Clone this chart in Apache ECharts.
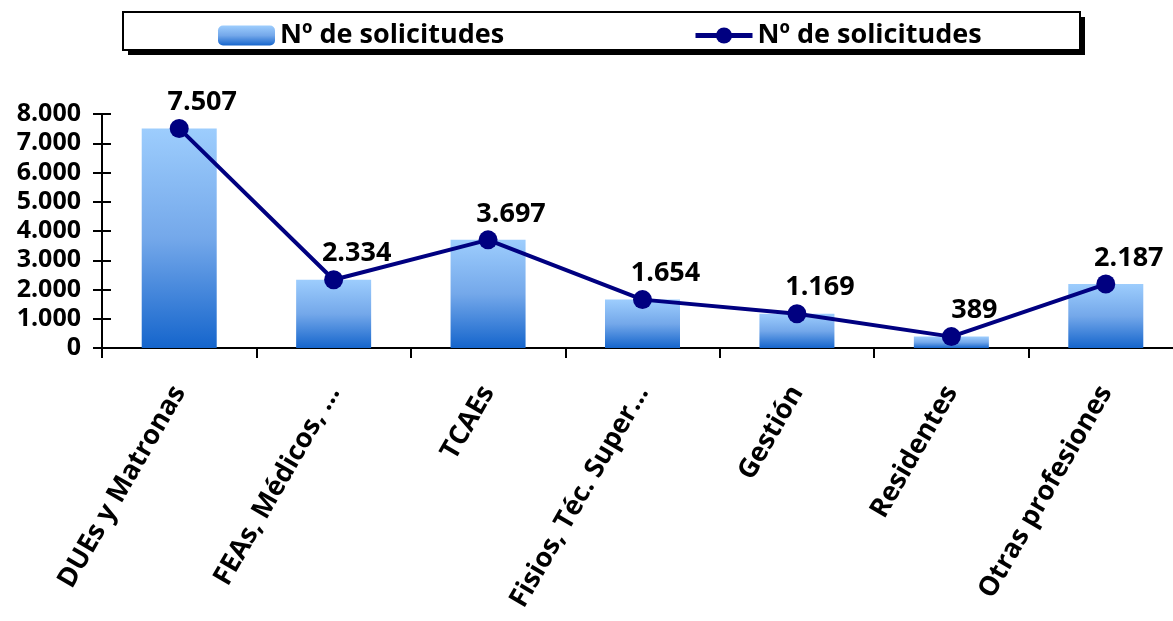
<!DOCTYPE html>
<html>
<head>
<meta charset="utf-8">
<script src="https://cdn.jsdelivr.net/npm/echarts@6/dist/echarts.min.js"></script>
<style>
  html, body { margin: 0; padding: 0; background: #fff; }
  #main { width: 1173px; height: 621px; }
</style>
</head>
<body>
<div id="main"></div>
<script>
var categories = ['DUEs y Matronas', 'FEAs, Médicos, …', 'TCAEs', 'Fisios, Téc. Super…', 'Gestión', 'Residentes', 'Otras profesiones'];
var solicitudes = [7507, 2334, 3697, 1654, 1169, 389, 2187];
var yTicks = [0, 1000, 2000, 3000, 4000, 5000, 6000, 7000, 8000];
var seriesLabel = 'Nº de solicitudes';

function fmt(v) {
	return String(v).replace(/\B(?=(\d{3})+(?!\d))/g, '.');
}

var font = '"Open Sans", Lato, sans-serif';
var dom = document.getElementById('main');
var myChart = echarts.init(dom);

var legendText = { fontFamily : font, fontSize : 27, fontWeight : 'bold', color : '#000' };

var option = {
	animation : false,
	textStyle : { fontFamily : font },
	// legend box with its solid drop shadow
	graphic : [{
		type : 'rect',
		z : -10,
		shape : { x : 128, y : 17, width : 957, height : 38 },
		style : { fill : '#000' }
	}, {
		type : 'rect',
		z : -9,
		shape : { x : 123, y : 12, width : 957, height : 38 },
		style : { fill : '#fff', stroke : '#000', lineWidth : 2 }
	}],
	legend : [{
		left : 213,
		top : 17,
		itemWidth : 57,
		itemHeight : 20,
		textStyle : legendText,
		formatter : function(name) { return seriesLabel; },
		data : ['bar']
	}, {
		left : 688,
		top : 17,
		itemWidth : 57,
		itemHeight : 20,
		lineStyle : { width : 5 },
		textStyle : legendText,
		formatter : function(name) { return seriesLabel; },
		data : ['line']
	}],
	grid : {
		left : 102,
		right : -10,
		top : 114,
		bottom : 273,
		containLabel : false,
		outerBoundsMode : 'none'
	},
	xAxis : {
		type : 'category',
		data : categories,
		axisLine : { lineStyle : { color : '#000', width : 2 } },
		axisTick : { show : true, length : 10, lineStyle : { color : '#000', width : 2 } },
		axisLabel : {
			rotate : 60,
			margin : 40,
			interval : 0,
			fontFamily : font,
			fontSize : 27,
			fontWeight : 'bold',
			color : '#000'
		}
	},
	yAxis : [{
		type : 'value',
		min : 0,
		max : 8000,
		interval : 1000,
		splitLine : { show : false },
		axisLine : { show : true, lineStyle : { color : '#000', width : 2 } },
		axisTick : { show : true, length : 9, lineStyle : { color : '#000', width : 2 } },
		axisLabel : {
			margin : 21,
			fontFamily : font,
			fontSize : 25,
			fontWeight : 'bold',
			color : '#000',
			formatter : function(v) { return yTicks.indexOf(v) >= 0 ? fmt(v) : ''; }
		}
	}, {
		// inner half of the cross tick marks
		type : 'value',
		position : 'left',
		min : 0,
		max : 8000,
		interval : 1000,
		splitLine : { show : false },
		axisLine : { show : false },
		axisTick : { show : true, inside : true, length : 9, lineStyle : { color : '#000', width : 2 } },
		axisLabel : { show : false }
	}],
	series : [{
		name : 'bar',
		type : 'bar',
		data : solicitudes,
		barWidth : 75,
		itemStyle : {
			color : new echarts.graphic.LinearGradient(0, 0, 0, 1, [
				{ offset : 0, color : '#9DCDFD' },
				{ offset : 0.5, color : '#74A8EA' },
				{ offset : 1, color : '#1565CC' }
			])
		}
	}, {
		name : 'line',
		type : 'line',
		data : solicitudes,
		symbol : 'circle',
		symbolSize : 19,
		lineStyle : { color : '#000080', width : 4 },
		itemStyle : { color : '#000080' },
		label : {
			show : true,
			position : 'top',
			distance : 3,
			offset : [23, 0],
			fontFamily : font,
			fontSize : 27,
			fontWeight : 'bold',
			color : '#000',
			formatter : function(p) { return fmt(p.value); }
		},
		z : 5
	}]
};

if (option && typeof option === "object") {
	myChart.setOption(option, true);
}
</script>
</body>
</html>
